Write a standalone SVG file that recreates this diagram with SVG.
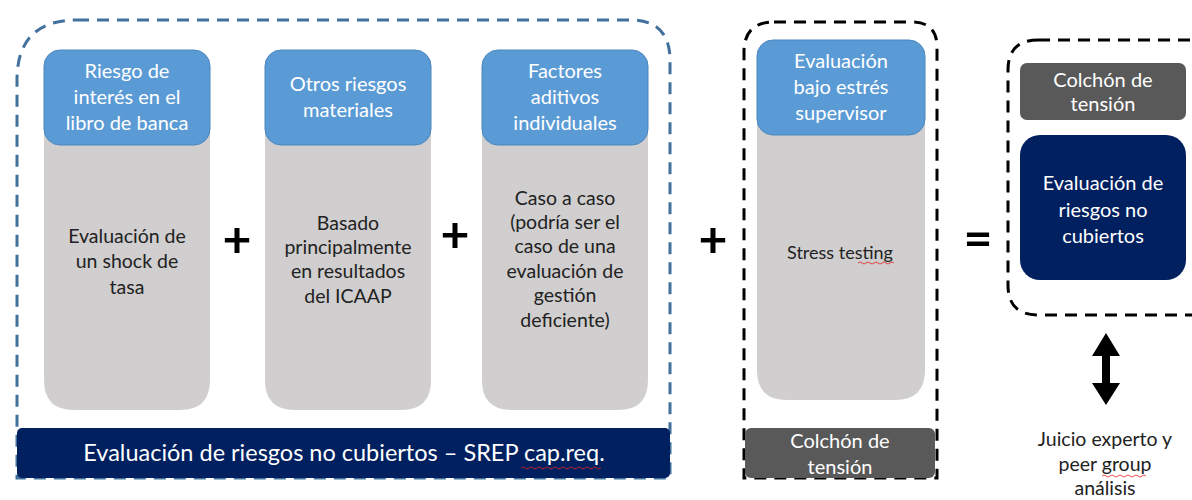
<svg xmlns="http://www.w3.org/2000/svg" width="1192" height="500" viewBox="0 0 1192 500">
<style>
text{font-family:Lato,"Open Sans","Liberation Sans",sans-serif;text-anchor:middle}
.hd{fill:#5B9BD5;stroke:#4A86BE;stroke-width:1}
.body{fill:#D0CECE}
.ht{fill:#fff;font-size:20px}
.bt{fill:#222;font-size:19.5px}
.wt{fill:#fff;font-size:20px}
.dk{fill:#002060}
.gr{fill:#595959}
.op{fill:#000;font-size:50px;font-weight:bold}
.sq{fill:none;stroke:#E02020;stroke-width:0.8}
</style>
<g id="frame-srep">
<path d="M77,20 H630 Q670,20 670,60 V478 H17 V80 Q17,20 77,20 Z" fill="none" stroke="#41719C" stroke-width="3" stroke-dasharray="12 8"/>
</g>
<g id="col1">
<path class="body" d="M44,130 H210 V380 Q210,410 180,410 H74 Q44,410 44,380 Z"/>
<rect class="hd" x="44" y="50" width="166" height="95" rx="16"/>
<text class="ht"><tspan x="127" y="78">Riesgo de</tspan><tspan x="127" y="104">interés en el</tspan><tspan x="127" y="130">libro de banca</tspan></text>
<text class="bt"><tspan x="127" y="243">Evaluación de</tspan><tspan x="127" y="268">un shock de</tspan><tspan x="127" y="294">tasa</tspan></text>
</g>
<g id="col2">
<path class="body" d="M265,130 H431 V380 Q431,410 401,410 H295 Q265,410 265,380 Z"/>
<rect class="hd" x="265" y="50" width="166" height="95" rx="16"/>
<text class="ht"><tspan x="348" y="91">Otros riesgos</tspan><tspan x="348" y="117">materiales</tspan></text>
<text class="bt"><tspan x="348" y="230">Basado</tspan><tspan x="348" y="254">principalmente</tspan><tspan x="348" y="278">en resultados</tspan><tspan x="348" y="303">del ICAAP</tspan></text>
</g>
<g id="col3">
<path class="body" d="M482,130 H648 V380 Q648,410 618,410 H512 Q482,410 482,380 Z"/>
<rect class="hd" x="482" y="50" width="166" height="95" rx="16"/>
<text class="ht"><tspan x="565" y="78">Factores</tspan><tspan x="565" y="104">aditivos</tspan><tspan x="565" y="130">individuales</tspan></text>
<text class="bt"><tspan x="565" y="205">Caso a caso</tspan><tspan x="565" y="229">(podría ser el</tspan><tspan x="565" y="253">caso de una</tspan><tspan x="565" y="278">evaluación de</tspan><tspan x="565" y="302">gestión</tspan><tspan x="565" y="327">deficiente)</tspan></text>
</g>
<g id="srep-bar">
<rect class="dk" x="17" y="428" width="653" height="50" rx="5"/>
<text class="wt" x="344" y="461" style="font-size:23.5px">Evaluación de riesgos no cubiertos – SREP cap.req.</text>
<path class="sq" d="M521,468 q2,-2 4,0 t4,0 t4,0 t4,0 t4,0 t4,0 t4,0 t4,0 t4,0 t4,0 t4,0 t4,0 t4,0 t4,0 t4,0 t4,0 t4,0 t4,0 t4,0 t4,0"/>
</g>
<g id="frame-stress">
<path d="M774,22 H912 Q937,22 937,47 V478 H744 V52 Q744,22 774,22 Z" fill="none" stroke="#000" stroke-width="3" stroke-dasharray="12 8"/>
</g>
<g id="stress">
<path class="body" d="M757,120 H925 V370 Q925,400 895,400 H787 Q757,400 757,370 Z"/>
<rect class="hd" x="757" y="40" width="168" height="95" rx="16"/>
<text class="ht"><tspan x="841" y="68">Evaluación</tspan><tspan x="841" y="94">bajo estrés</tspan><tspan x="841" y="120">supervisor</tspan></text>
<text class="bt" x="840" y="259" style="font-size:18px">Stress testing</text>
<path class="sq" d="M858,263 q2,-2 4,0 t4,0 t4,0 t4,0 t4,0 t4,0 t4,0 t4,0 t4,0"/>
</g>
<g id="colchon-stress">
<rect class="gr" x="745" y="428" width="190" height="50" rx="6"/>
<text class="wt"><tspan x="840" y="448">Colchón de</tspan><tspan x="840" y="474">tensión</tspan></text>
</g>
<g id="frame-result">
<path d="M1038,40 H1200 V315 H1038 Q1008,315 1008,285 V70 Q1008,40 1038,40 Z" fill="none" stroke="#000" stroke-width="3" stroke-dasharray="12 8"/>
</g>
<g id="colchon-result">
<rect class="gr" x="1020" y="63" width="166" height="57" rx="7"/>
<text class="wt"><tspan x="1103" y="87">Colchón de</tspan><tspan x="1103" y="111">tensión</tspan></text>
</g>
<g id="result">
<rect class="dk" x="1020" y="135" width="166" height="145" rx="20"/>
<text class="wt"><tspan x="1103" y="190">Evaluación de</tspan><tspan x="1103" y="217">riesgos no</tspan><tspan x="1103" y="243">cubiertos</tspan></text>
</g>
<g id="operators">
<text class="op" x="237" y="257">+</text>
<text class="op" x="455" y="252">+</text>
<text class="op" x="713" y="257">+</text>
<text class="op" x="978" y="256">=</text>
</g>
<g id="connectors">
<path d="M1106,333 L1120,356 H1110 V383 H1120 L1106,405 L1092,383 H1102 V356 H1092 Z" fill="#000"/>
</g>
<g id="expert">
<text class="bt"><tspan x="1105" y="446">Juicio experto y</tspan><tspan x="1105" y="471">peer group</tspan><tspan x="1105" y="495">análisis</tspan></text>
<path class="sq" d="M1102,476 q2,-2 4,0 t4,0 t4,0 t4,0 t4,0 t4,0 t4,0 t4,0 t4,0 t4,0 t4,0"/>
</g>
</svg>
